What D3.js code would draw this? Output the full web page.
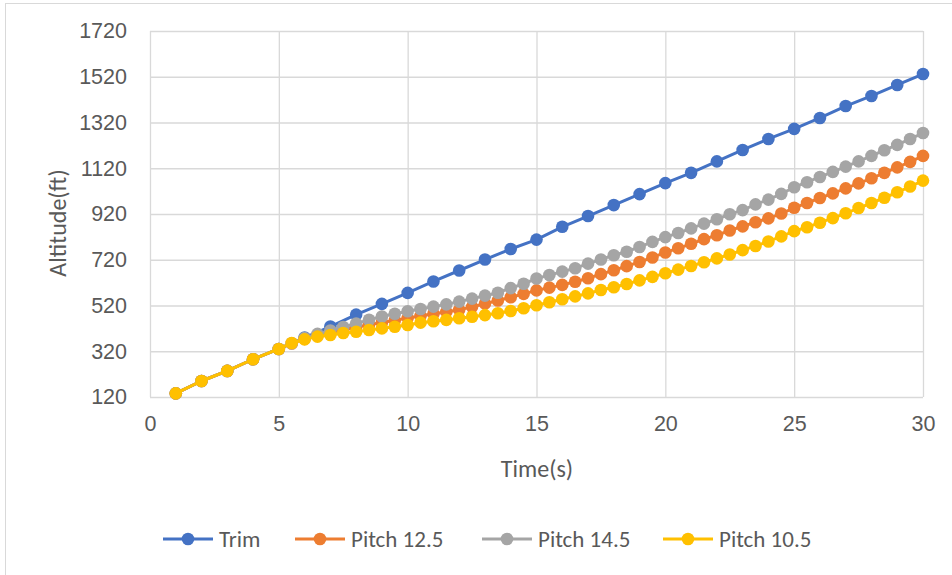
<!DOCTYPE html>
<html>
<head>
<meta charset="utf-8">
<script src="https://cdn.jsdelivr.net/npm/d3@7"></script>
<style>
  html, body { margin: 0; padding: 0; background: #fff; }
  svg { display: block; font-family: Carlito, "Liberation Sans", Arial, sans-serif; }
  .grid line { stroke: #d9d9d9; stroke-width: 1.3; }
  .grid path { display: none; }
  .tick text { fill: #595959; }
</style>
</head>
<body>
<svg id="chart" width="952" height="575"></svg>
<script>
// Altitude vs time for the trim case and three pitch settings
const seriesNames = ["Trim", "Pitch 12.5", "Pitch 14.5", "Pitch 10.5"];
const seriesColors = ["#4472C4", "#ED7D31", "#A5A5A5", "#FFC000"];

const trimTime = [1, 2, 3, 4, 5, 6, 7, 8, 9, 10, 11, 12, 13, 14, 15,
  16, 17, 18, 19, 20, 21, 22, 23, 24, 25, 26, 27, 28, 29, 30];
const trimAlt = [136, 190, 234, 285, 330, 380, 428, 480, 527, 575, 625, 673, 721, 767, 808,
  864, 911, 959, 1007, 1055, 1100, 1150, 1200, 1248, 1292, 1340, 1392, 1436, 1484, 1532];

const pitchTime = [1, 2, 3, 4, 5, 5.5, 6, 6.5, 7, 7.5, 8, 8.5, 9, 9.5, 10,
  10.5, 11, 11.5, 12, 12.5, 13, 13.5, 14, 14.5, 15, 15.5, 16, 16.5, 17, 17.5,
  18, 18.5, 19, 19.5, 20, 20.5, 21, 21.5, 22, 22.5, 23, 23.5, 24, 24.5, 25,
  25.5, 26, 26.5, 27, 27.5, 28, 28.5, 29, 29.5, 30];

const pitch125Alt = [136, 190, 234, 285, 330, 354, 374, 390, 402, 414, 425, 436, 446, 455, 465,
  474, 484, 492, 501, 514, 528, 542, 556, 571, 586, 598, 610, 624, 639, 657,
  674, 692, 710, 730, 752, 770, 790, 810, 827, 848, 866, 884, 901, 922, 947,
  968, 990, 1010, 1032, 1054, 1076, 1100, 1124, 1148, 1174];

const pitch145Alt = [136, 190, 234, 285, 330, 355, 378, 396, 411, 426, 441, 458, 472, 484, 495,
  505, 515, 525, 537, 550, 563, 576, 596, 615, 638, 653, 668, 683, 703, 721,
  740, 755, 776, 798, 819, 837, 857, 878, 897, 919, 937, 962, 983, 1008, 1037,
  1059, 1082, 1104, 1127, 1150, 1174, 1199, 1222, 1248, 1274];

const pitch105Alt = [136, 190, 234, 285, 330, 356, 372, 384, 391, 400, 405, 413, 420, 427, 435,
  445, 451, 457, 464, 471, 478, 486, 496, 508, 521, 534, 547, 560, 573, 588,
  600, 614, 630, 645, 661, 677, 693, 709, 726, 743, 762, 780, 800, 822, 845,
  862, 882, 902, 923, 946, 968, 991, 1015, 1040, 1066];

const xTicks = [0, 5, 10, 15, 20, 25, 30];
const yTicks = [120, 320, 520, 720, 920, 1120, 1320, 1520, 1720];

const series = [
  { name: seriesNames[0], color: seriesColors[0], t: trimTime, v: trimAlt },
  { name: seriesNames[1], color: seriesColors[1], t: pitchTime, v: pitch125Alt },
  { name: seriesNames[2], color: seriesColors[2], t: pitchTime, v: pitch145Alt },
  { name: seriesNames[3], color: seriesColors[3], t: pitchTime, v: pitch105Alt }
];

const svg = d3.select("#chart");
const plot = { left: 150, right: 923, top: 31, bottom: 397 };

// outer chart frame
svg.append("rect")
  .attr("x", 5.5).attr("y", 3.5)
  .attr("width", 1000).attr("height", 1000)
  .attr("fill", "none").attr("stroke", "#d9d9d9").attr("stroke-width", 1);

const x = d3.scaleLinear().domain([0, 30]).range([plot.left, plot.right]);
const y = d3.scaleLinear().domain([120, 1720]).range([plot.bottom, plot.top]);

// horizontal gridlines + y tick labels
const yAxis = svg.append("g")
  .attr("class", "grid")
  .attr("transform", `translate(${plot.left},0)`)
  .call(d3.axisLeft(y).tickValues(yTicks).tickFormat(d3.format("d"))
    .tickSize(-(plot.right - plot.left)).tickPadding(23));
yAxis.selectAll("text").style("font-size", "21.5px");

// vertical gridlines + x tick labels
const xAxis = svg.append("g")
  .attr("class", "grid")
  .attr("transform", `translate(0,${plot.bottom})`)
  .call(d3.axisBottom(x).tickValues(xTicks).tickFormat(d3.format("d"))
    .tickSize(-(plot.bottom - plot.top)).tickPadding(19));
xAxis.selectAll("text").style("font-size", "21.5px");

// axis titles
svg.append("text")
  .attr("x", 537).attr("y", 477)
  .attr("text-anchor", "middle")
  .attr("fill", "#595959").style("font-size", "24px")
  .text("Time(s)");

svg.append("text")
  .attr("transform", "translate(66,223) rotate(-90)")
  .attr("text-anchor", "middle")
  .attr("fill", "#595959").style("font-size", "24px")
  .text("Altitude(ft)");

// series lines and markers
const line = d3.line().x(d => x(d[0])).y(d => y(d[1]));

series.forEach(s => {
  const pts = s.t.map((t, i) => [t, s.v[i]]);
  const g = svg.append("g");
  g.append("path")
    .datum(pts)
    .attr("d", line)
    .attr("fill", "none")
    .attr("stroke", s.color)
    .attr("stroke-width", 3)
    .attr("stroke-linejoin", "round");
  g.selectAll("circle")
    .data(pts)
    .join("circle")
    .attr("cx", d => x(d[0]))
    .attr("cy", d => y(d[1]))
    .attr("r", 6.3)
    .attr("fill", s.color);
});

// legend
const legendX = [163, 295, 482, 663];
const legendY = 539;
const legend = svg.append("g");
series.forEach((s, i) => {
  const lx = legendX[i];
  legend.append("line")
    .attr("x1", lx).attr("x2", lx + 50)
    .attr("y1", legendY).attr("y2", legendY)
    .attr("stroke", s.color).attr("stroke-width", 3);
  legend.append("circle")
    .attr("cx", lx + 25).attr("cy", legendY).attr("r", 6.3)
    .attr("fill", s.color);
  legend.append("text")
    .attr("x", lx + 56).attr("y", legendY + 8)
    .attr("fill", "#595959").style("font-size", "23px")
    .text(s.name);
});
</script>
</body>
</html>
